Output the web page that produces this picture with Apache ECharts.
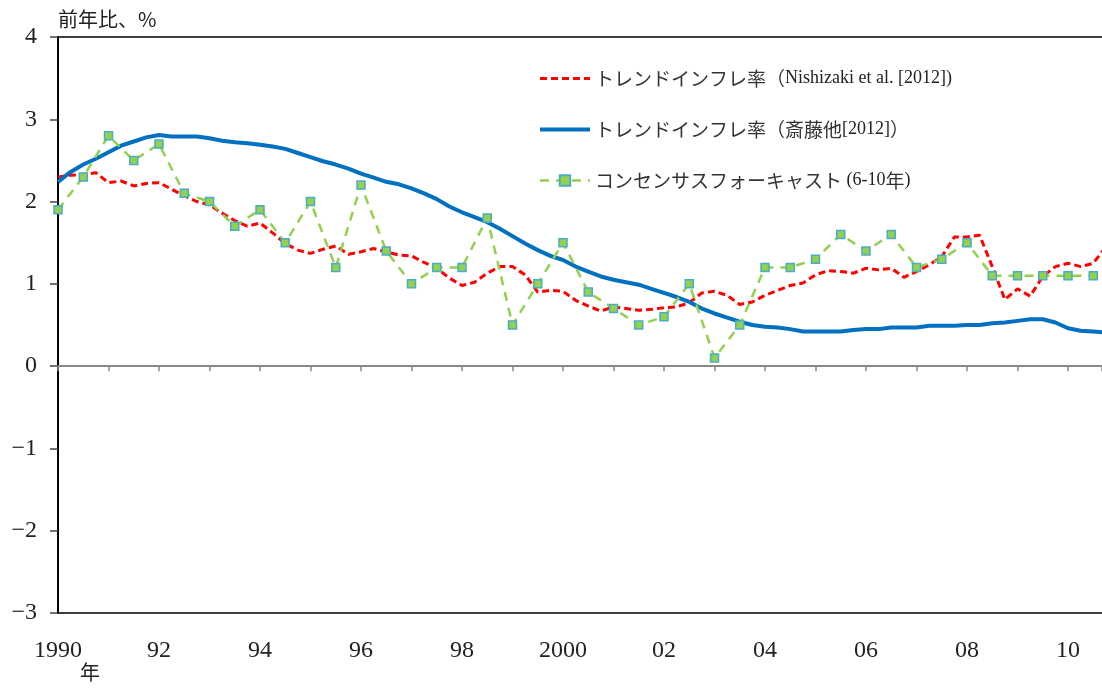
<!DOCTYPE html>
<html>
<head>
<meta charset="utf-8">
<script src="https://cdn.jsdelivr.net/npm/echarts@6/dist/echarts.min.js"></script>
<style>
  html, body { margin: 0; padding: 0; background: #fff; }
  #chart { width: 1102px; height: 688px; }
</style>
</head>
<body>
<div id="chart"></div>
<script>
// 四半期系列（1990年1Q から）と半期系列（1990年上期から）
var quarterStart = 1990;
var halfStart = 1990;

// トレンドインフレ率（Nishizaki et al. [2012]）
var nishizaki = [
  2.30, 2.32, 2.33, 2.35,
  2.23, 2.25, 2.19, 2.22,
  2.23, 2.15, 2.07, 2.00,
  1.96, 1.86, 1.77, 1.70,
  1.74, 1.62, 1.49, 1.41,
  1.37, 1.42, 1.46, 1.36,
  1.39, 1.43, 1.39, 1.35,
  1.34, 1.26, 1.19, 1.07,
  0.98, 1.02, 1.13, 1.21,
  1.21, 1.11, 0.90, 0.92,
  0.91, 0.80, 0.73, 0.67,
  0.72, 0.70, 0.68, 0.69,
  0.71, 0.72, 0.77, 0.89,
  0.91, 0.86, 0.75, 0.78,
  0.86, 0.92, 0.98, 1.01,
  1.11, 1.16, 1.15, 1.13,
  1.19, 1.17, 1.19, 1.08,
  1.15, 1.23, 1.33, 1.57,
  1.57, 1.59, 1.21, 0.81,
  0.94, 0.85, 1.09, 1.21,
  1.25, 1.21, 1.25, 1.45
];

// トレンドインフレ率（斎藤他[2012]）
var saito = [
  2.24, 2.36, 2.45, 2.52,
  2.60, 2.68, 2.73, 2.78,
  2.81, 2.79, 2.79, 2.79,
  2.77, 2.74, 2.72, 2.71,
  2.69, 2.67, 2.64, 2.59,
  2.54, 2.49, 2.45, 2.40,
  2.34, 2.29, 2.24, 2.21,
  2.16, 2.10, 2.03, 1.94,
  1.87, 1.81, 1.75, 1.67,
  1.58, 1.49, 1.41, 1.34,
  1.29, 1.21, 1.15, 1.09,
  1.05, 1.02, 0.99, 0.94,
  0.89, 0.84, 0.78, 0.70,
  0.64, 0.59, 0.54, 0.50,
  0.48, 0.47, 0.45, 0.42,
  0.42, 0.42, 0.42, 0.44,
  0.45, 0.45, 0.47, 0.47,
  0.47, 0.49, 0.49, 0.49,
  0.50, 0.50, 0.52, 0.53,
  0.55, 0.57, 0.57, 0.53,
  0.46, 0.43, 0.42, 0.41
];

// コンセンサスフォーキャスト（6-10年）半期
var consensus = [
  1.9, 2.3, 2.8, 2.5, 2.7, 2.1, 2.0, 1.7, 1.9, 1.5,
  2.0, 1.2, 2.2, 1.4, 1.0, 1.2, 1.2, 1.8, 0.5, 1.0,
  1.5, 0.9, 0.7, 0.5, 0.6, 1.0, 0.1, 0.5, 1.2, 1.2,
  1.3, 1.6, 1.4, 1.6, 1.2, 1.3, 1.5, 1.1, 1.1, 1.1,
  1.1, 1.1
];

var seriesNames = [
  'トレンドインフレ率（Nishizaki et al. [2012])',
  'トレンドインフレ率（斎藤他[2012]）',
  'コンセンサスフォーキャスト (6-10年)'
];

function toPairs(values, start, step) {
  return values.map(function (v, i) { return [start + i * step, v]; });
}

// 凡例: 和文と欧文で書体を分ける
function legendText(name) {
  var runs = name.match(/[\x20-\x7e]+|[^\x20-\x7e]+/g) || [];
  return runs.map(function (r) {
    return (/^[\x20-\x7e]+$/.test(r) ? '{l|' : '{c|') + r + '}';
  }).join('');
}

var xMin = 1990;
var xMax = 2010.673;
var serifFont = '"Liberation Serif", "Times New Roman", serif';
var cjkFont = '"Noto Sans CJK JP", sans-serif';

var redLine = { color: '#ff0000', width: 3, type: [7, 4] };
var blueLine = { color: '#0070c0', width: 4, type: 'solid' };
var greenLine = { color: '#92d050', width: 2.5, type: [9, 7] };

var myChart = echarts.init(document.getElementById('chart'));

var option = {
  animation: false,
  backgroundColor: '#fff',
  grid: { left: 58, right: 0, top: 37, bottom: 75 },
  legend: {
    orient: 'vertical',
    left: 538,
    top: 69,
    padding: 0,
    itemWidth: 50,
    itemHeight: 13,
    itemGap: 32,
    itemTextGap: 8,
    data: [
      { name: seriesNames[0], itemStyle: { opacity: 0 }, lineStyle: redLine },
      { name: seriesNames[1], itemStyle: { opacity: 0 }, lineStyle: blueLine },
      { name: seriesNames[2], lineStyle: greenLine }
    ],
    formatter: legendText,
    textStyle: {
      color: '#222',
      rich: {
        c: { fontSize: 19, lineHeight: 20, fontFamily: cjkFont, color: '#333' },
        l: { fontSize: 18, lineHeight: 20, fontFamily: serifFont, color: '#222' }
      }
    }
  },
  graphic: [{
    type: 'text',
    left: 80,
    top: 662,
    style: { text: '年', fontSize: 20, fill: '#222', fontFamily: cjkFont }
  }],
  xAxis: [{
    // 0 の線（目盛りつき）
    type: 'value', min: xMin, max: xMax, interval: 1, position: 'bottom',
    axisLine: { onZero: true, lineStyle: { color: '#888', width: 2 } },
    axisTick: { show: true, length: 5, lineStyle: { color: '#888', width: 1.5 } },
    axisLabel: { show: false },
    splitLine: { show: false }
  }, {
    // 下端の軸とラベル
    type: 'value', min: xMin, max: xMax, interval: 2, position: 'bottom',
    axisLine: { onZero: false, lineStyle: { color: '#000', width: 1.5 } },
    axisTick: { show: false },
    splitLine: { show: false },
    axisLabel: {
      margin: 26, fontSize: 24, color: '#222', fontFamily: serifFont,
      showMaxLabel: false,
      formatter: function (v) {
        if (Math.abs(v - Math.round(v)) > 0.01) return '';
        if (v === 1990 || v === 2000) return String(v);
        return String(v).slice(2);
      }
    }
  }, {
    // 上端の線
    type: 'value', min: xMin, max: xMax, position: 'top',
    axisLine: { onZero: false, lineStyle: { color: '#000', width: 1.5 } },
    axisTick: { show: false },
    axisLabel: { show: false },
    splitLine: { show: false }
  }],
  yAxis: {
    type: 'value', min: -3, max: 4, interval: 1,
    name: '前年比、%',
    nameLocation: 'end',
    nameGap: 8,
    nameTextStyle: {
      align: 'left', verticalAlign: 'bottom', fontSize: 20, color: '#222',
      fontFamily: cjkFont
    },
    axisLine: { show: true, onZero: false, lineStyle: { color: '#000', width: 2 } },
    axisTick: { show: true, length: 8, lineStyle: { color: '#444', width: 1.5 } },
    splitLine: { show: false },
    axisLabel: {
      margin: 21, fontSize: 24, color: '#222', fontFamily: serifFont,
      formatter: function (v) { return String(v).replace('-', '−'); }
    }
  },
  series: [{
    name: seriesNames[0],
    type: 'line',
    xAxisIndex: 0,
    data: toPairs(nishizaki, quarterStart, 0.25),
    symbol: 'none',
    color: '#ff0000',
    lineStyle: redLine
  }, {
    name: seriesNames[1],
    type: 'line',
    xAxisIndex: 0,
    data: toPairs(saito, quarterStart, 0.25),
    symbol: 'none',
    color: '#0070c0',
    lineStyle: blueLine
  }, {
    name: seriesNames[2],
    type: 'line',
    xAxisIndex: 0,
    data: toPairs(consensus, halfStart, 0.5),
    symbol: 'rect',
    symbolSize: 8,
    showAllSymbol: true,
    color: '#92d050',
    itemStyle: { color: '#92d050', borderColor: '#4bacc6', borderWidth: 1.5 },
    lineStyle: greenLine
  }]
};

myChart.setOption(option);
</script>
</body>
</html>
